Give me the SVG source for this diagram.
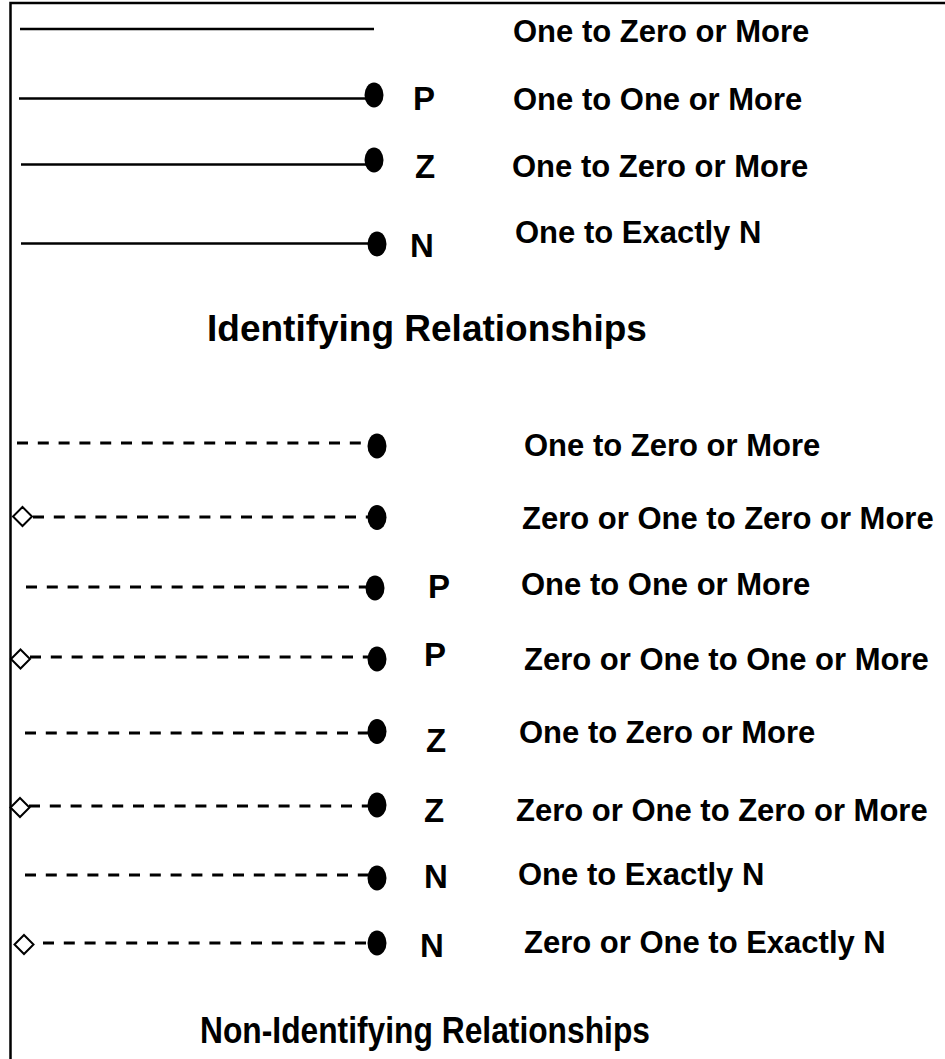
<svg xmlns="http://www.w3.org/2000/svg" width="945" height="1059" viewBox="0 0 945 1059">
<style>
.frame{stroke:#000;stroke-width:2.5;fill:none}
.solid{stroke:#000;stroke-width:2.5;fill:none}
.dash{stroke:#000;stroke-width:3.2;fill:none;stroke-dasharray:11 9.8}
.dot{fill:#000}
.dia{fill:#fff;stroke:#000;stroke-width:2}
.lbl{font-family:"Liberation Sans",Arial,sans-serif;font-weight:bold;font-size:31px;fill:#000}
.let{font-family:"Liberation Sans",Arial,sans-serif;font-weight:bold;font-size:33px;fill:#000}
.title{font-family:"Liberation Sans",Arial,sans-serif;font-weight:bold;font-size:37px;fill:#000}
</style>
<defs>
<ellipse id="dotshape" cx="0" cy="0" rx="9.5" ry="12.5"/>
<path id="diashape" d="M0,-9.5 L9.5,0 L0,9.5 L-9.5,0 Z"/>
</defs>
<rect width="945" height="1059" fill="#fff"/>
<path class="frame" d="M10.5,1059 V3 H945"/>

<g id="connectors">
<line class="solid" x1="20" y1="29" x2="374" y2="29"/>
<line class="solid" x1="19" y1="98.5" x2="370" y2="98.5"/>
<line class="solid" x1="21" y1="164.5" x2="370" y2="164.5"/>
<line class="solid" x1="21" y1="243.5" x2="372" y2="243.5"/>
<line class="dash" x1="17" y1="443" x2="370" y2="443"/>
<line class="dash" x1="33" y1="517" x2="370" y2="517"/>
<line class="dash" x1="26" y1="587" x2="370" y2="587"/>
<line class="dash" x1="30" y1="657" x2="370" y2="657"/>
<line class="dash" x1="25" y1="733" x2="370" y2="733"/>
<line class="dash" x1="29" y1="806" x2="370" y2="806"/>
<line class="dash" x1="25" y1="875" x2="370" y2="875"/>
<line class="dash" x1="43" y1="943" x2="370" y2="943"/>
<use href="#dotshape" class="dot" x="374" y="95"/>
<use href="#dotshape" class="dot" x="374" y="160"/>
<use href="#dotshape" class="dot" x="377" y="244"/>
<use href="#dotshape" class="dot" x="377" y="446"/>
<use href="#dotshape" class="dot" x="377" y="517.5"/>
<use href="#dotshape" class="dot" x="375" y="588"/>
<use href="#dotshape" class="dot" x="377" y="659"/>
<use href="#dotshape" class="dot" x="377" y="731.5"/>
<use href="#dotshape" class="dot" x="377" y="805"/>
<use href="#dotshape" class="dot" x="377" y="878"/>
<use href="#dotshape" class="dot" x="377" y="943"/>
<use href="#diashape" class="dia" x="22.5" y="516.5"/>
<use href="#diashape" class="dia" x="20.5" y="659"/>
<use href="#diashape" class="dia" x="20" y="807.5"/>
<use href="#diashape" class="dia" x="24" y="944.5"/>
</g>

<g id="identifying">
<g id="row1"><text class="lbl" x="513" y="42">One to Zero or More</text></g>
<g id="row2"><text class="let" x="413" y="110">P</text><text class="lbl" x="513" y="110">One to One or More</text></g>
<g id="row3"><text class="let" x="415" y="178">Z</text><text class="lbl" x="512" y="177">One to Zero or More</text></g>
<g id="row4"><text class="let" x="410" y="257">N</text><text class="lbl" x="515" y="243">One to Exactly N</text></g>
<g id="title1"><text class="title" x="207" y="341">Identifying Relationships</text></g>
</g>

<g id="nonidentifying">
<g id="row5"><text class="lbl" x="524" y="456">One to Zero or More</text></g>
<g id="row6"><text class="lbl" x="522" y="529">Zero or One to Zero or More</text></g>
<g id="row7"><text class="let" x="428" y="598">P</text><text class="lbl" x="521" y="595">One to One or More</text></g>
<g id="row8"><text class="let" x="424" y="666">P</text><text class="lbl" x="524" y="670">Zero or One to One or More</text></g>
<g id="row9"><text class="let" x="426" y="752">Z</text><text class="lbl" x="519" y="743">One to Zero or More</text></g>
<g id="row10"><text class="let" x="424" y="822">Z</text><text class="lbl" x="516" y="821">Zero or One to Zero or More</text></g>
<g id="row11"><text class="let" x="424" y="888">N</text><text class="lbl" x="518" y="885">One to Exactly N</text></g>
<g id="row12"><text class="let" x="420" y="957">N</text><text class="lbl" x="524" y="953">Zero or One to Exactly N</text></g>
<g id="title2"><text class="title" x="200" y="1043" textLength="450" lengthAdjust="spacingAndGlyphs">Non-Identifying Relationships</text></g>
</g>
</svg>
